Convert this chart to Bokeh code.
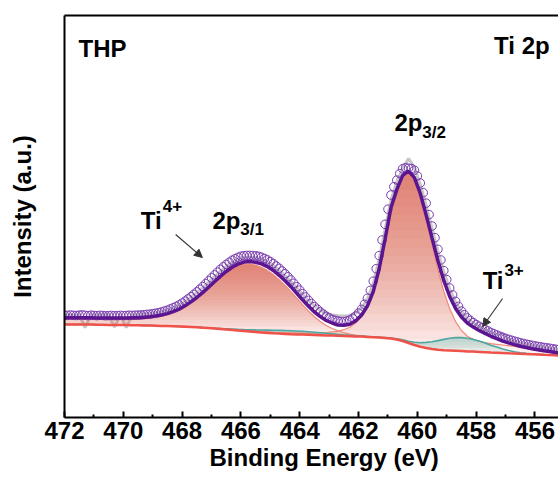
import numpy as np
from bokeh.plotting import figure
from bokeh.models import Range1d, FixedTicker, LinearAxis, Label, Arrow, NormalHead, Title
from bokeh.embed import file_html
from bokeh.resources import INLINE

# ---------------- data (intensity in a.u.) ----------------
# fitted curves are sampled every 0.2 eV starting at 472.1 eV
fit_start, fit_step = 472.1, -0.2
# measured scan points every 0.1 eV starting at 472.0 eV
scan_start, scan_step = 472.0, -0.1

background = [
    93.0, 93.0, 93.0, 93.0, 93.0, 93.0, 92.8, 92.7, 92.6, 92.5,
    92.5, 92.4, 92.3, 92.2, 92.1, 92.0, 91.8, 91.6, 91.4, 91.2,
    91.0, 90.8, 90.5, 90.2, 89.8, 89.5, 89.0, 88.5, 88.0, 87.5,
    87.0, 86.5, 86.0, 85.5, 85.0, 84.6, 84.2, 83.9, 83.6, 83.3,
    83.1, 82.9, 82.7, 82.5, 82.3, 82.1, 81.9, 81.7, 81.5, 81.3,
    81.1, 80.9, 80.6, 80.3, 80.0, 79.6, 79.0, 78.0, 76.5, 74.5,
    72.5, 70.8, 69.5, 68.5, 67.8, 67.3, 67.0, 66.7, 66.4, 66.1,
    65.9, 65.6, 65.3, 65.0, 64.8, 64.5, 64.2, 64.0, 63.7, 63.4,
    63.2, 63.0, 62.7, 62.5, 62.2, 62.0]

# Ti4+ 2p1/2 component (height above background)
ti4_2p12 = [
    6.5, 6.5, 6.5, 6.5, 6.5, 6.5, 6.5, 6.5, 6.5, 6.6,
    6.7, 6.8, 7.0, 7.2, 7.7, 8.3, 9.2, 10.4, 12.1, 14.3,
    17.0, 20.4, 24.5, 29.2, 34.4, 40.0, 45.8, 51.5, 56.7, 61.2,
    64.6, 66.8, 67.5, 66.9, 65.2, 62.5, 58.7, 53.9, 48.5, 42.6,
    36.2, 29.7, 23.7, 18.2, 13.7, 9.9, 7.1, 4.9, 3.3, 2.1,
    1.3, 0.8, 0.5, 0.3, 0.2, 0.1, 0.0, 0.0, 0.0, 0.0,
    0.0, 0.0, 0.0, 0.0, 0.0, 0.0, 0.0, 0.0, 0.0, 0.0,
    0.0, 0.0, 0.0, 0.0, 0.0, 0.0, 0.0, 0.0, 0.0, 0.0,
    0.0, 0.0, 0.0, 0.0, 0.0, 0.0]

# Ti4+ 2p3/2 component (height above background)
ti4_2p32 = [
    0.3, 0.3, 0.3, 0.3, 0.3, 0.3, 0.3, 0.3, 0.3, 0.3,
    0.3, 0.4, 0.4, 0.4, 0.4, 0.4, 0.4, 0.4, 0.4, 0.4,
    0.4, 0.5, 0.5, 0.5, 0.5, 0.5, 0.6, 0.6, 0.6, 0.6,
    0.7, 0.7, 0.8, 0.8, 0.9, 1.0, 1.0, 1.1, 1.2, 1.4,
    1.5, 1.6, 1.8, 2.0, 2.4, 2.9, 3.7, 4.5, 6.3, 9.0,
    13.5, 20.0, 30.0, 45.0, 68.0, 98.0, 130.0, 149.2, 164.5, 170.0,
    164.5, 149.2, 127.3, 103.6, 79.8, 58.7, 41.8, 29.2, 20.6, 15.2,
    12.3, 10.6, 9.7, 8.9, 8.4, 8.0, 7.6, 7.1, 6.5, 5.9,
    5.2, 4.6, 4.0, 3.5, 2.9, 2.4]

# Ti3+ components (height above background)
ti3 = [
    0.0, 0.0, 0.0, 0.0, 0.0, 0.0, 0.0, 0.0, 0.0, 0.0,
    0.0, 0.0, 0.0, 0.0, 0.0, 0.0, 0.0, 0.0, 0.0, 0.0,
    0.0, 0.0, 0.1, 0.1, 0.2, 0.2, 0.3, 0.5, 0.7, 0.9,
    1.1, 1.4, 1.8, 2.1, 2.5, 2.8, 3.1, 3.3, 3.4, 3.5,
    3.4, 3.3, 3.1, 2.8, 2.5, 2.1, 1.8, 1.4, 1.1, 0.9,
    0.7, 0.5, 0.4, 0.3, 0.3, 0.3, 0.5, 0.7, 1.1, 1.8,
    2.8, 4.0, 5.6, 7.3, 9.1, 10.8, 12.2, 13.2, 13.5, 13.2,
    12.2, 10.8, 9.1, 7.3, 5.6, 4.0, 2.8, 1.8, 1.1, 0.7,
    0.4, 0.2, 0.1, 0.1, 0.0, 0.0]

# grey raw trace
raw_trace = [
    102.5, 102.8, 102.3, 102.6, 90.0, 102.4, 102.2, 102.6, 102.1, 90.5,
    102.3, 90.0, 102.5, 102.7, 103.2, 103.8, 104.6, 105.6, 107.2, 109.5,
    112.2, 115.8, 120.0, 124.8, 129.8, 135.2, 140.9, 146.4, 151.2, 155.0,
    158.2, 160.0, 160.6, 159.8, 158.5, 155.8, 152.0, 147.5, 142.0, 136.0,
    129.5, 123.0, 117.0, 111.5, 107.0, 104.0, 102.5, 101.8, 101.5, 102.0,
    104.5, 109.5, 118.5, 134.0, 158.0, 188.0, 217.0, 236.0, 249.0, 259.0,
    250.0, 233.0, 212.0, 189.0, 166.0, 145.5, 128.5, 115.5, 106.0, 99.0,
    94.5, 91.0, 88.0, 85.0, 82.5, 84.0, 78.0, 76.2, 74.6, 73.2,
    72.0, 70.9, 70.0, 69.2, 68.2, 67.6]

# measured points (open circles), one row per eV
scan_counts = [
    102.4, 102.1, 102.5, 102.2, 102.0, 102.4, 102.6, 102.2, 101.9, 102.3,
    102.1, 101.8, 102.2, 102.0, 101.7, 101.9, 102.1, 101.8, 101.9, 102.2,
    101.9, 102.0, 102.3, 102.1, 102.3, 102.4, 102.5, 102.8, 103.1, 103.3,
    103.8, 104.3, 104.9, 105.6, 106.5, 107.4, 108.6, 109.8, 111.2, 112.6,
    114.5, 116.4, 118.6, 120.8, 123.2, 125.7, 128.3, 130.9, 133.8, 136.7,
    139.7, 142.6, 145.4, 148.2, 150.7, 153.1, 155.2, 157.3, 158.8, 160.2,
    161.3, 161.8, 162.1, 162.1, 162.0, 161.7, 161.2, 160.3, 159.0, 157.7,
    155.9, 154.0, 151.6, 149.2, 146.5, 143.8, 140.7, 137.6, 134.2, 130.8,
    127.4, 123.9, 120.5, 117.2, 114.0, 110.9, 108.3, 105.7, 103.5, 101.3,
    99.7, 98.2, 97.2, 96.5, 96.0, 95.9, 96.5, 97.5, 99.2, 101.5,
    104.5, 108.2, 113.2, 119.2, 127.2, 136.3, 148.8, 161.9, 177.5, 193.2,
    208.3, 222.5, 230.8, 237.4, 243.9, 248.8, 249.8, 249.3, 249.0, 247.3,
    241.6, 234.5, 224.8, 214.3, 202.9, 191.5, 179.8, 168.2, 157.5, 146.9,
    137.9, 129.5, 122.6, 116.2, 111.1, 106.4, 102.8, 99.5, 97.1, 94.9,
    93.0, 91.2, 89.6, 88.1, 86.6, 85.1, 83.8, 82.6, 81.4, 80.2,
    79.2, 78.2, 77.3, 76.4, 75.6, 74.8, 74.1, 73.4, 72.8, 72.2,
    71.6, 71.1, 70.6, 70.1, 69.7, 69.3, 68.8, 68.3, 67.8]

major_ticks = [472, 470, 468, 466, 464, 462, 460, 458, 456]
minor_ticks = [471, 469, 467, 465, 463, 461, 459, 457, 455]

# ---------------- derived tables ----------------
fit_e = np.round(fit_start + fit_step * np.arange(len(background)), 1)
scan_e = np.round(scan_start + scan_step * np.arange(len(scan_counts)), 1)
bg = np.array(background)
c12 = bg + np.array(ti4_2p12)
c32 = bg + np.array(ti4_2p32)
c3 = bg + np.array(ti3)
envelope = bg + np.array(ti4_2p12) + np.array(ti4_2p32) + np.array(ti3)

FONT = "Liberation Sans"

p = figure(width=558, height=477, x_range=Range1d(472, 455.2), y_range=Range1d(0, 402),
           output_backend="svg", toolbar_location=None,
           min_border_left=64, min_border_right=0, min_border_top=15, min_border_bottom=60,
           outline_line_color=None, background_fill_color="white", border_fill_color="white")
p.xgrid.visible = False
p.ygrid.visible = False

xa = p.xaxis[0]
xa.ticker = FixedTicker(ticks=major_ticks, minor_ticks=minor_ticks)
xa.axis_line_width = 2
xa.axis_line_color = "black"
xa.major_tick_line_width = 2
xa.minor_tick_line_width = 2
xa.major_tick_in = 6
xa.major_tick_out = 0
xa.minor_tick_in = 3
xa.minor_tick_out = 0
xa.major_label_text_font = FONT
xa.major_label_text_font_style = "bold"
xa.major_label_text_font_size = "24px"
xa.major_label_text_color = "black"
xa.major_label_standoff = 4

ya = p.yaxis[0]
ya.ticker = FixedTicker(ticks=[])
ya.axis_line_width = 2
ya.axis_line_color = "black"
ya.major_tick_line_color = None
ya.minor_tick_line_color = None
ya.major_label_text_font_size = "0px"
ya.major_label_standoff = 0
ya.major_tick_out = 0
ya.major_tick_in = 0
ya.axis_label = "Intensity (a.u.)"
ya.axis_label_standoff = 29
ya.axis_label_text_font = FONT
ya.axis_label_text_font_style = "bold"
ya.axis_label_text_font_size = "24px"
ya.axis_label_text_color = "black"

top_axis = LinearAxis(ticker=FixedTicker(ticks=[]), axis_line_width=2, axis_line_color="black",
                      major_tick_line_color=None, minor_tick_line_color=None,
                      major_label_text_font_size="0px", major_label_standoff=0,
                      major_tick_out=0, major_tick_in=0)
p.add_layout(top_axis, "above")

p.add_layout(Title(text="Binding Energy (eV)", align="left", offset=145, standoff=0,
                   text_font=FONT, text_font_style="bold", text_font_size="24px",
                   text_color="black"), "below")

# ---------------- curves ----------------
p.line(fit_e, raw_trace, line_color="#C6C6C6", line_width=3)
p.scatter(scan_e, scan_counts, marker="circle", size=8.5, fill_color=None,
          line_color="#7A3BB0", line_width=1)


def gradient_fill(base, top, color, layers, alpha, base_alpha):
    mask = (top - base) > 1.0
    lo = float(np.min(base[mask]))
    hi = float(np.max(top))
    p.varea(x=fit_e, y1=base, y2=top, fill_color=color, fill_alpha=base_alpha)
    for k in range(1, layers):
        level = lo + (hi - lo) * k / layers
        y1 = np.maximum(base, level)
        y2 = np.maximum(top, y1)
        p.varea(x=fit_e, y1=y1, y2=y2, fill_color=color, fill_alpha=alpha)


gradient_fill(bg, c12, "#E25A48", 22, 0.055, 0.07)
gradient_fill(bg, c32, "#E25A48", 22, 0.055, 0.07)
gradient_fill(bg, c3, "#5AB2AB", 10, 0.07, 0.10)

p.line(fit_e, c12, line_color="#F08A78", line_width=1.2)
p.line(fit_e, c32, line_color="#F08A78", line_width=1.2)
p.line(fit_e, c3, line_color="#4FA6A0", line_width=1.6)
p.line(fit_e, bg, line_color="#F0524A", line_width=2.5)
p.line(fit_e, envelope, line_color="#5C1590", line_width=3.5)

# ---------------- annotations ----------------
def lab(x, y, text, size="24px", align="left"):
    p.add_layout(Label(x=x, y=y, text=text, text_font=FONT, text_font_style="bold",
                       text_font_size=size, text_color="black", text_align=align,
                       text_baseline="alphabetic"))


lab(471.52, 369, "THP")
lab(455.50, 372, "Ti 2p", align="right")
lab(460.78, 295, "2p")
lab(459.83, 285, "3/2", size="17px")
lab(469.41, 197, "Ti")
lab(468.66, 212, "4+", size="17px")
lab(466.97, 197, "2p")
lab(466.02, 188, "3/1", size="17px")
lab(457.78, 137, "Ti")
lab(457.04, 148, "3+", size="17px")

for xs, ys, xe, ye in [(468.22, 183, 467.31, 160), (457.10, 119, 457.78, 91)]:
    p.add_layout(Arrow(end=NormalHead(size=8, fill_color="#333333", line_color="#333333",
                                      line_width=1),
                       x_start=xs, y_start=ys, x_end=xe, y_end=ye,
                       line_color="#333333", line_width=1.1))

open("out.html", "w").write(file_html(p, INLINE))
